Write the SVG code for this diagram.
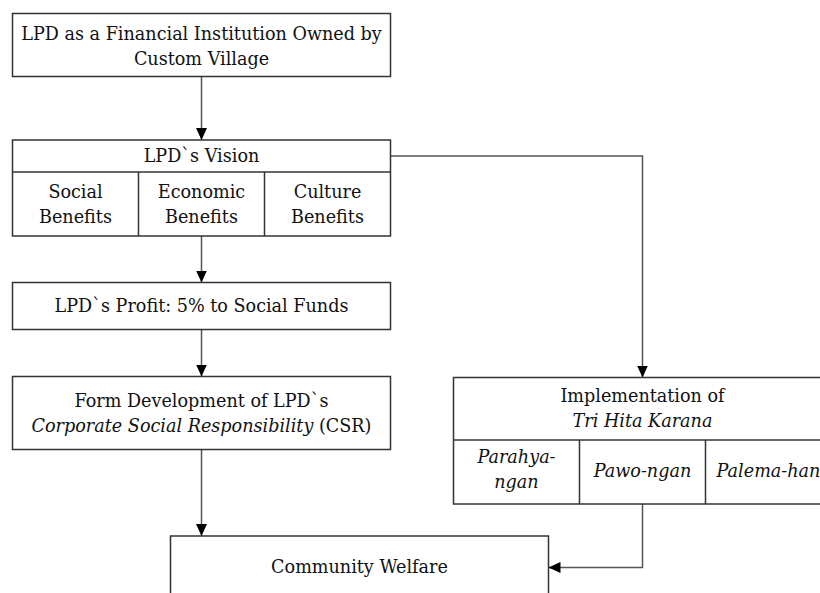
<svg xmlns="http://www.w3.org/2000/svg" width="820" height="593" viewBox="0 0 820 593">
<defs>
<style>
.box{fill:#fff;stroke:#333;stroke-width:1.5}
.div{fill:none;stroke:#333;stroke-width:1.5}
.con{fill:none;stroke:#555;stroke-width:1.5}
.t{font-family:"DejaVu Serif","Liberation Serif",serif;font-size:17.6px;fill:#111;text-anchor:middle}
.it{font-style:italic}
</style>
<marker id="arr" markerUnits="userSpaceOnUse" markerWidth="13" markerHeight="12" refX="12" refY="5.5" orient="auto">
<path d="M0,0 L12,5.5 L0,11 z" fill="#000"/>
</marker>
</defs>
<rect width="820" height="593" fill="#fff"/>
<g id="connectors">
<line class="con" x1="201.5" y1="76.5" x2="201.5" y2="140" marker-end="url(#arr)"/>
<polyline class="con" points="390.5,156 642.5,156 642.5,377.5" marker-end="url(#arr)"/>
<line class="con" x1="201.5" y1="236" x2="201.5" y2="282.5" marker-end="url(#arr)"/>
<line class="con" x1="201.5" y1="329.5" x2="201.5" y2="376.5" marker-end="url(#arr)"/>
<line class="con" x1="201.5" y1="449.5" x2="201.5" y2="536" marker-end="url(#arr)"/>
<polyline class="con" points="642.5,504 642.5,567.5 548.5,567.5" marker-end="url(#arr)"/>
</g>
<g id="lpd-institution">
<rect class="box" x="12.5" y="13.5" width="378" height="63"/>
<text class="t" x="201.5" y="39.5">LPD as a Financial Institution Owned by</text>
<text class="t" x="201.5" y="64.5">Custom Village</text>
</g>
<g id="lpd-vision">
<rect class="box" x="12.5" y="140" width="378" height="96"/>
<line class="div" x1="12.5" y1="172" x2="390.5" y2="172"/>
<line class="div" x1="138.5" y1="172" x2="138.5" y2="236"/>
<line class="div" x1="264.5" y1="172" x2="264.5" y2="236"/>
<text class="t" x="201.5" y="162">LPD`s Vision</text>
<text class="t" x="75.5" y="197.5">Social</text>
<text class="t" x="75.5" y="222.5">Benefits</text>
<text class="t" x="201.5" y="197.5">Economic</text>
<text class="t" x="201.5" y="222.5">Benefits</text>
<text class="t" x="327.5" y="197.5">Culture</text>
<text class="t" x="327.5" y="222.5">Benefits</text>
</g>
<g id="lpd-profit">
<rect class="box" x="12.5" y="282.5" width="378" height="47"/>
<text class="t" x="201.5" y="312">LPD`s Profit: 5% to Social Funds</text>
</g>
<g id="csr">
<rect class="box" x="12.5" y="376.5" width="378" height="73"/>
<text class="t" x="201.5" y="406.5">Form Development of LPD`s</text>
<text class="t" x="201.5" y="431.5"><tspan class="it">Corporate Social Responsibility</tspan> (CSR)</text>
</g>
<g id="tri-hita-karana">
<rect class="box" x="453.5" y="377.5" width="378" height="126.5"/>
<line class="div" x1="453.5" y1="440" x2="831.5" y2="440"/>
<line class="div" x1="579.5" y1="440" x2="579.5" y2="504"/>
<line class="div" x1="705.5" y1="440" x2="705.5" y2="504"/>
<text class="t" x="642.5" y="401.5">Implementation of</text>
<text class="t it" x="642.5" y="426.5">Tri Hita Karana</text>
<text class="t it" x="516.5" y="463">Parahya-</text>
<text class="t it" x="516.5" y="488">ngan</text>
<text class="t it" x="642.5" y="476.5">Pawo-ngan</text>
<text class="t it" x="768.5" y="476.5">Palema-han</text>
</g>
<g id="community-welfare">
<rect class="box" x="170.5" y="536" width="378" height="80"/>
<text class="t" x="359.5" y="572.5">Community Welfare</text>
</g>
</svg>
